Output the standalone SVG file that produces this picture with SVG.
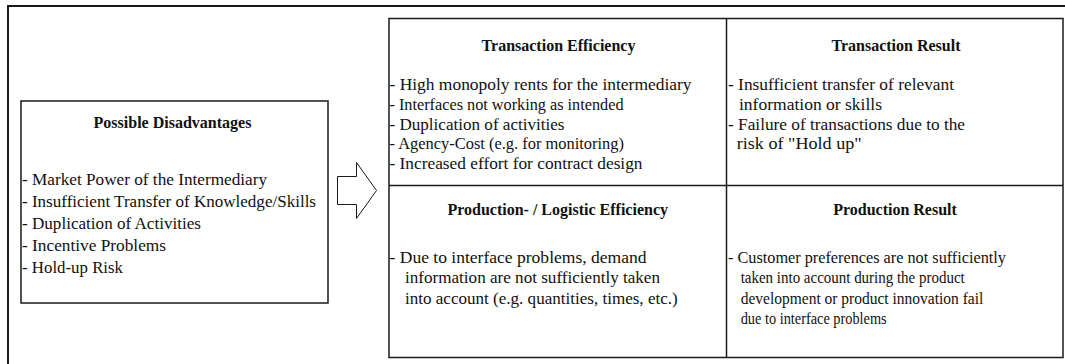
<svg xmlns="http://www.w3.org/2000/svg" width="1065" height="364" viewBox="0 0 1065 364">
  <style>
    .frame { fill: none; stroke: #1a1a1a; stroke-width: 2; }
    .box { fill: #ffffff; stroke: #1a1a1a; stroke-width: 1.5; }
    .rule { stroke: #1a1a1a; stroke-width: 1.5; }
    .arrow { fill: #ffffff; stroke: #1a1a1a; stroke-width: 1; stroke-linejoin: miter; }
    text { font-family: "Liberation Serif", "Times New Roman", serif; font-size: 16.5px; fill: #111111; }
    .title { font-size: 16px; font-weight: bold; text-anchor: middle; }
  </style>

  <rect width="1065" height="364" fill="#ffffff"/>
  <!-- outer frame, open to the right and bottom edges -->
  <rect class="frame" x="8" y="6" width="1100" height="400"/>

  <!-- left summary box -->
  <g id="possible-disadvantages">
    <rect class="box" x="21" y="101" width="307" height="202"/>
    <text class="title" x="172.5" y="128">Possible Disadvantages</text>
    <text x="22" y="184.5" textLength="245" lengthAdjust="spacingAndGlyphs">- Market Power of the Intermediary</text>
    <text x="22" y="206.5" textLength="294" lengthAdjust="spacingAndGlyphs">- Insufficient Transfer of Knowledge/Skills</text>
    <text x="22" y="228.5" textLength="179" lengthAdjust="spacingAndGlyphs">- Duplication of Activities</text>
    <text x="22" y="250.5" textLength="144" lengthAdjust="spacingAndGlyphs">- Incentive Problems</text>
    <text x="22" y="272.5" textLength="101" lengthAdjust="spacingAndGlyphs">- Hold-up Risk</text>
  </g>

  <!-- block arrow -->
  <g id="connectors">
    <polygon class="arrow" points="337.5,176.5 356.5,176.5 356.5,162.5 376.5,190.5 356.5,218.5 356.5,204.5 337.5,204.5"/>
  </g>

  <!-- 2x2 effect matrix -->
  <g id="matrix">
    <rect class="box" x="389" y="18.5" width="674" height="339"/>
    <line class="rule" x1="726.5" y1="18.5" x2="726.5" y2="357.5"/>
    <line class="rule" x1="389" y1="185.5" x2="1063" y2="185.5"/>
  </g>

  <g id="transaction-efficiency">
    <text class="title" x="558.5" y="51">Transaction Efficiency</text>
    <text x="389.5" y="89.7" textLength="302" lengthAdjust="spacingAndGlyphs">- High monopoly rents for the intermediary</text>
    <text x="389.5" y="109.6" textLength="234" lengthAdjust="spacingAndGlyphs">- Interfaces not working as intended</text>
    <text x="389.5" y="129.5" textLength="175" lengthAdjust="spacingAndGlyphs">- Duplication of activities</text>
    <text x="389.5" y="149.4" textLength="234.5" lengthAdjust="spacingAndGlyphs">- Agency-Cost (e.g. for monitoring)</text>
    <text x="389.5" y="169.3" textLength="253" lengthAdjust="spacingAndGlyphs">- Increased effort for contract design</text>
  </g>

  <g id="transaction-result">
    <text class="title" x="896" y="51">Transaction Result</text>
    <text x="728" y="89.7" textLength="226" lengthAdjust="spacingAndGlyphs">- Insufficient transfer of relevant</text>
    <text x="739" y="109.6" textLength="143" lengthAdjust="spacingAndGlyphs">information or skills</text>
    <text x="728" y="129.5" textLength="237" lengthAdjust="spacingAndGlyphs">- Failure of transactions due to the</text>
    <text x="736.7" y="149.4" textLength="125" lengthAdjust="spacingAndGlyphs">risk of "Hold up"</text>
  </g>

  <g id="production-logistic-efficiency">
    <text class="title" x="557.7" y="215">Production- / Logistic Efficiency</text>
    <text x="389.5" y="262.5" textLength="257" lengthAdjust="spacingAndGlyphs">- Due to interface problems, demand</text>
    <text x="405" y="283" textLength="255" lengthAdjust="spacingAndGlyphs">information are not sufficiently taken</text>
    <text x="405" y="303.5" textLength="272.7" lengthAdjust="spacingAndGlyphs">into account (e.g. quantities, times, etc.)</text>
  </g>

  <g id="production-result">
    <text class="title" x="895" y="215">Production Result</text>
    <text x="728" y="262.5" textLength="278" lengthAdjust="spacingAndGlyphs">- Customer preferences are not sufficiently</text>
    <text x="740.7" y="283" textLength="224" lengthAdjust="spacingAndGlyphs">taken into account during the product</text>
    <text x="740.7" y="303.5" textLength="242.6" lengthAdjust="spacingAndGlyphs">development or product innovation fail</text>
    <text x="740.7" y="324" textLength="146" lengthAdjust="spacingAndGlyphs">due to interface problems</text>
  </g>
</svg>
